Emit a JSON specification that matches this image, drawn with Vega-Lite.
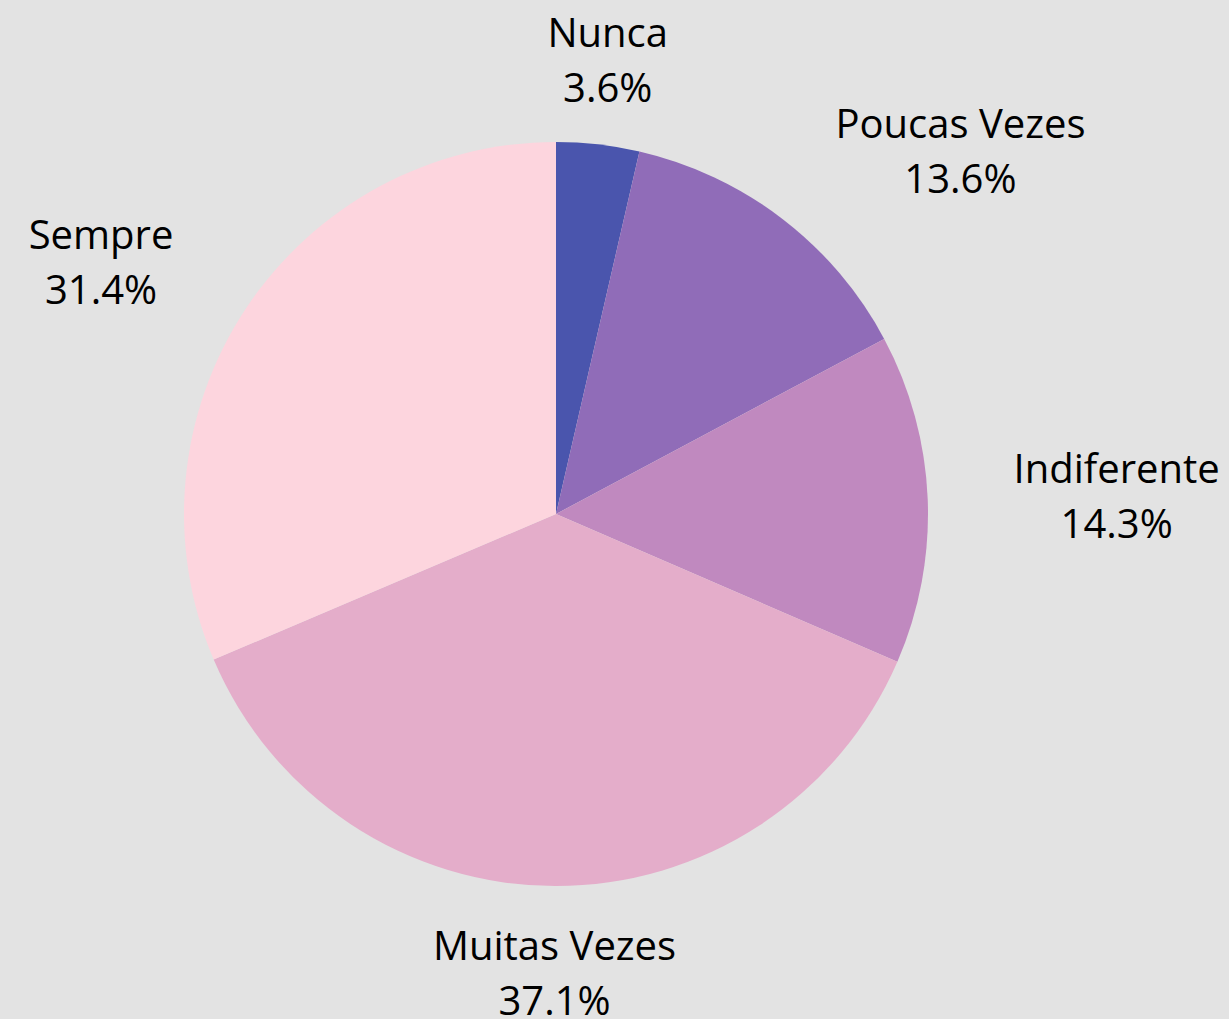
{
  "$schema": "https://vega.github.io/schema/vega-lite/v6.json",
  "width": 1112,
  "height": 1010,
  "autosize": {"type": "none"},
  "padding": {"left": 0, "top": 9, "right": 117, "bottom": 0},
  "background": "#e3e3e3",
  "config": {"view": {"stroke": null}},
  "data": {
    "values": [
      {"cat": "Nunca", "pct": 3.6, "ord": 1},
      {"cat": "Poucas Vezes", "pct": 13.6, "ord": 2},
      {"cat": "Indiferente", "pct": 14.3, "ord": 3},
      {"cat": "Muitas Vezes", "pct": 37.1, "ord": 4},
      {"cat": "Sempre", "pct": 31.4, "ord": 5}
    ]
  },
  "transform": [
    {"stack": "pct", "groupby": [], "sort": [{"field": "ord", "order": "ascending"}], "as": ["s0", "s1"]},
    {"calculate": "(datum.s0 + datum.s1) / 2", "as": "mid"},
    {"calculate": "[datum.cat, format(datum.pct, '.1f') + '%']", "as": "lbl"}
  ],
  "layer": [
    {
      "mark": {"type": "arc", "outerRadius": 372},
      "encoding": {
        "theta": {"field": "s0", "type": "quantitative", "scale": {"domain": [0, 100], "range": [0, 6.283185307179586]}},
        "theta2": {"field": "s1"},
        "color": {
          "field": "cat",
          "type": "nominal",
          "scale": {
            "domain": ["Nunca", "Poucas Vezes", "Indiferente", "Muitas Vezes", "Sempre"],
            "range": ["#4a55ad", "#906cb8", "#c089bf", "#e4adca", "#fdd5de"]
          },
          "legend": null
        }
      }
    },
    {
      "transform": [{"filter": "datum.cat == 'Nunca' || datum.cat == 'Muitas Vezes'"}],
      "mark": {"type": "text", "radius": 458, "align": "center", "baseline": "middle", "dy": -24, "font": "Open Sans", "fontSize": 40, "lineHeight": 55, "color": "#000000"},
      "encoding": {"theta": {"field": "mid", "type": "quantitative"}, "text": {"field": "lbl"}}
    },
    {
      "transform": [{"filter": "datum.cat == 'Poucas Vezes'"}],
      "mark": {"type": "text", "radius": 458, "align": "center", "baseline": "middle", "dx": 126, "dy": -24, "font": "Open Sans", "fontSize": 40, "lineHeight": 55, "color": "#000000"},
      "encoding": {"theta": {"field": "mid", "type": "quantitative"}, "text": {"field": "lbl"}}
    },
    {
      "transform": [{"filter": "datum.cat == 'Indiferente'"}],
      "mark": {"type": "text", "radius": 458, "align": "center", "baseline": "middle", "dx": 103, "dy": -24, "font": "Open Sans", "fontSize": 40, "lineHeight": 55, "color": "#000000"},
      "encoding": {"theta": {"field": "mid", "type": "quantitative"}, "text": {"field": "lbl"}}
    },
    {
      "transform": [{"filter": "datum.cat == 'Sempre'"}],
      "mark": {"type": "text", "radius": 458, "align": "center", "baseline": "middle", "dx": -73, "dy": -24, "font": "Open Sans", "fontSize": 40, "lineHeight": 55, "color": "#000000"},
      "encoding": {"theta": {"field": "mid", "type": "quantitative"}, "text": {"field": "lbl"}}
    }
  ]
}
